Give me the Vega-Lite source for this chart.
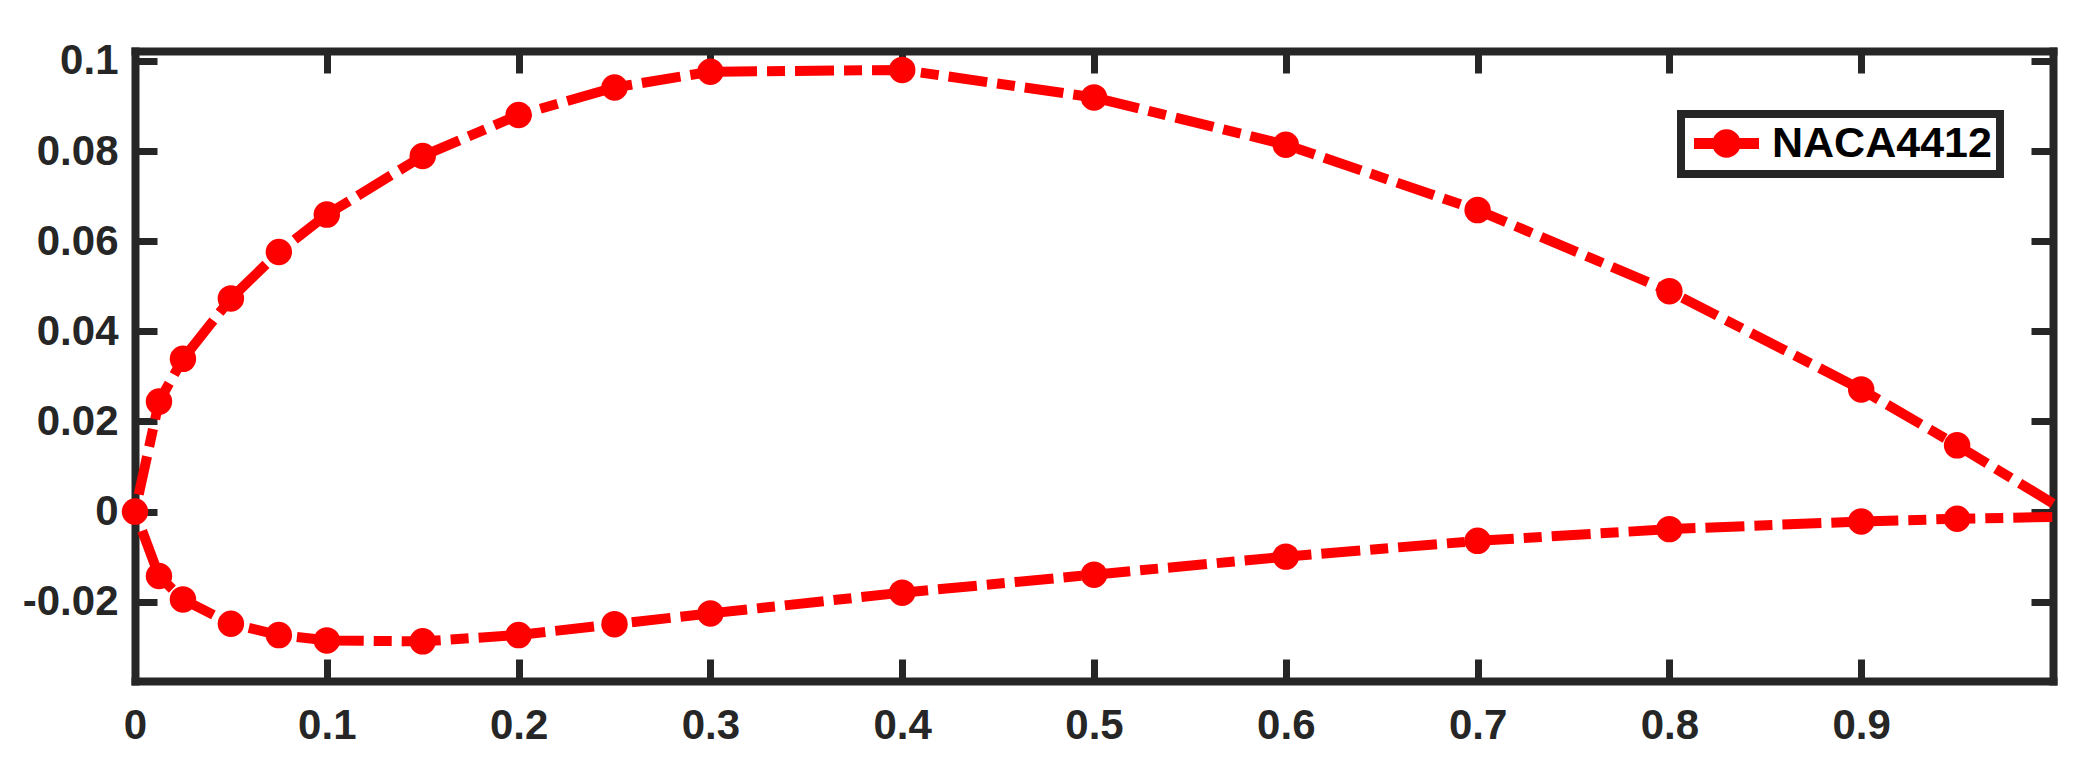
{
  "$schema": "https://vega.github.io/schema/vega-lite/v6.json",
  "width": 1918,
  "height": 630,
  "autosize": {"type": "none"},
  "padding": {"left": 135, "top": 51, "right": 40, "bottom": 100},
  "background": "white",
  "config": {
    "view": {"stroke": null},
    "legend": {"strokeWidth": 8, "strokeColor": "#262626", "fillColor": "white"},
    "axis": {
      "grid": false,
      "title": null,
      "domain": true,
      "domainWidth": 8,
      "domainColor": "#262626",
      "domainCap": "square",
      "ticks": true,
      "tickSize": -22,
      "tickWidth": 7,
      "tickColor": "#262626",
      "labelFont": "Liberation Sans",
      "labelFontWeight": "bold",
      "labelFontSize": 42,
      "labelColor": "#262626",
      "labelFlush": false,
      "labelOverlap": false
    }
  },
  "data": {
    "values": [
      {"x": 1, "y": 0.0018, "ord": 1, "series": "NACA4412"},
      {"x": 0.95, "y": 0.0147, "ord": 2, "series": "NACA4412"},
      {"x": 0.9, "y": 0.0271, "ord": 3, "series": "NACA4412"},
      {"x": 0.8, "y": 0.0489, "ord": 4, "series": "NACA4412"},
      {"x": 0.7, "y": 0.0669, "ord": 5, "series": "NACA4412"},
      {"x": 0.6, "y": 0.0814, "ord": 6, "series": "NACA4412"},
      {"x": 0.5, "y": 0.0919, "ord": 7, "series": "NACA4412"},
      {"x": 0.4, "y": 0.098, "ord": 8, "series": "NACA4412"},
      {"x": 0.3, "y": 0.0976, "ord": 9, "series": "NACA4412"},
      {"x": 0.25, "y": 0.0941, "ord": 10, "series": "NACA4412"},
      {"x": 0.2, "y": 0.088, "ord": 11, "series": "NACA4412"},
      {"x": 0.15, "y": 0.0789, "ord": 12, "series": "NACA4412"},
      {"x": 0.1, "y": 0.0659, "ord": 13, "series": "NACA4412"},
      {"x": 0.075, "y": 0.0576, "ord": 14, "series": "NACA4412"},
      {"x": 0.05, "y": 0.0473, "ord": 15, "series": "NACA4412"},
      {"x": 0.025, "y": 0.0339, "ord": 16, "series": "NACA4412"},
      {"x": 0.0125, "y": 0.0244, "ord": 17, "series": "NACA4412"},
      {"x": 0, "y": 0, "ord": 18, "series": "NACA4412"},
      {"x": 0.0125, "y": -0.0143, "ord": 19, "series": "NACA4412"},
      {"x": 0.025, "y": -0.0195, "ord": 20, "series": "NACA4412"},
      {"x": 0.05, "y": -0.0249, "ord": 21, "series": "NACA4412"},
      {"x": 0.075, "y": -0.0274, "ord": 22, "series": "NACA4412"},
      {"x": 0.1, "y": -0.0286, "ord": 23, "series": "NACA4412"},
      {"x": 0.15, "y": -0.0288, "ord": 24, "series": "NACA4412"},
      {"x": 0.2, "y": -0.0274, "ord": 25, "series": "NACA4412"},
      {"x": 0.25, "y": -0.025, "ord": 26, "series": "NACA4412"},
      {"x": 0.3, "y": -0.0226, "ord": 27, "series": "NACA4412"},
      {"x": 0.4, "y": -0.018, "ord": 28, "series": "NACA4412"},
      {"x": 0.5, "y": -0.014, "ord": 29, "series": "NACA4412"},
      {"x": 0.6, "y": -0.01, "ord": 30, "series": "NACA4412"},
      {"x": 0.7, "y": -0.0065, "ord": 31, "series": "NACA4412"},
      {"x": 0.8, "y": -0.0039, "ord": 32, "series": "NACA4412"},
      {"x": 0.9, "y": -0.0022, "ord": 33, "series": "NACA4412"},
      {"x": 0.95, "y": -0.0016, "ord": 34, "series": "NACA4412"},
      {"x": 1, "y": -0.0012, "ord": 35, "series": "NACA4412"}
    ]
  },
  "layer": [
    {
      "mark": {"type": "line", "color": "#ff0000", "strokeWidth": 10, "strokeDash": [39, 10, 18, 10], "clip": false},
      "encoding": {
        "x": {"field": "x", "type": "quantitative", "scale": {"domain": [0, 1], "nice": false, "zero": false},
          "axis": {"orient": "bottom", "values": [0, 0.1, 0.2, 0.3, 0.4, 0.5, 0.6, 0.7, 0.8, 0.9], "labelExpr": "'' + datum.value", "labelPadding": 46}},
        "y": {"field": "y", "type": "quantitative", "scale": {"domain": [-0.0376, 0.1022], "nice": false, "zero": false},
          "axis": {"orient": "left", "values": [-0.02, 0, 0.02, 0.04, 0.06, 0.08, 0.1], "labelExpr": "'' + datum.value", "labelPadding": 39}},
        "order": {"field": "ord", "type": "quantitative"}
      }
    },
    {
      "transform": [{"filter": "datum.x < 1"}],
      "mark": {"type": "point", "shape": "circle", "filled": true, "size": 700, "opacity": 1, "strokeWidth": 0, "clip": false},
      "encoding": {
        "x": {"field": "x", "type": "quantitative", "scale": {"domain": [0, 1], "nice": false, "zero": false},
          "axis": {"orient": "top", "values": [0, 0.1, 0.2, 0.3, 0.4, 0.5, 0.6, 0.7, 0.8, 0.9], "labels": false}},
        "y": {"field": "y", "type": "quantitative", "scale": {"domain": [-0.0376, 0.1022], "nice": false, "zero": false},
          "axis": {"orient": "right", "values": [-0.02, 0, 0.02, 0.04, 0.06, 0.08, 0.1], "labels": false}},
        "color": {
          "field": "series", "type": "nominal",
          "scale": {"range": ["#ff0000"]},
          "legend": {
            "title": null,
            "orient": "none",
            "legendX": 1546,
            "legendY": 63,
            "symbolType": "M-1.6,-0.27H1.6V0.27H-1.6Z M0.7,0A0.7,0.7,0,1,1,-0.7,0A0.7,0.7,0,1,1,0.7,0Z",
            "symbolSize": 1650,
            "symbolOpacity": 1,
            "symbolStrokeWidth": 0,
            "symbolOffset": 16,
            "labelOffset": 24,
            "labelLimit": 600,
            "labelFont": "Liberation Sans",
            "labelFontWeight": "bold",
            "labelFontSize": 43,
            "labelColor": "#000000",
            "padding": 8,
            "cornerRadius": 0
          }
        }
      }
    }
  ],
  "resolve": {"axis": {"x": "independent", "y": "independent"}}
}
